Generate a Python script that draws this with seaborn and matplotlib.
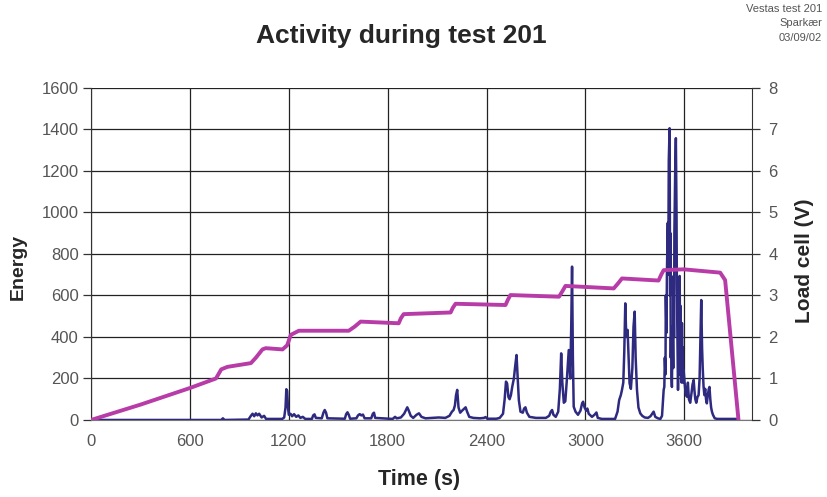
import matplotlib
matplotlib.use("Agg")
import matplotlib.pyplot as plt
import seaborn as sns
import pandas as pd

# Acoustic emission energy (time in s, energy)
energy_time = [0, 790, 800, 810, 955, 970, 980, 990, 1000, 1010, 1020, 1035, 1050, 1062,
               1160, 1172, 1180, 1185, 1190, 1195, 1200, 1210, 1220, 1232, 1245, 1258, 1270, 1285, 1300,
               1340, 1348, 1356, 1364, 1400, 1410, 1418, 1426, 1434, 1540, 1548, 1556, 1564, 1572,
               1610, 1620, 1630, 1640, 1650, 1660, 1700, 1710, 1717, 1724, 1830, 1845, 1855, 1880,
               1900, 1912, 1919, 1928, 1940, 1955, 1975, 1990, 2005, 2030, 2070, 2110, 2150, 2175,
               2190, 2200, 2208, 2215, 2222, 2230, 2240, 2252, 2265, 2273, 2282, 2295, 2320, 2360,
               2385, 2394, 2405, 2460, 2480, 2500, 2510, 2518, 2525, 2533, 2540, 2548, 2556, 2566,
               2574, 2582, 2589, 2596, 2606, 2620, 2628, 2636, 2645, 2660, 2700, 2760, 2780, 2790,
               2798, 2806, 2820, 2835, 2845, 2853, 2860, 2869, 2878, 2888, 2899, 2908, 2914, 2919,
               2924, 2929, 2940, 2955, 2970, 2980, 2986, 2995, 3005, 3012, 3020, 3040, 3055, 3067,
               3075, 3100, 3180, 3195, 3205, 3215, 3222, 3230, 3236, 3242, 3248, 3256, 3262, 3268,
               3276, 3285, 3292, 3299, 3305, 3313, 3322, 3333, 3345, 3360, 3380, 3395, 3405, 3414,
               3424, 3440, 3455, 3465, 3470, 3475, 3479, 3482, 3486, 3488, 3492, 3495, 3500, 3503,
               3506, 3511, 3514, 3516, 3518, 3520, 3523, 3525, 3528, 3530, 3533, 3535, 3538, 3540,
               3545, 3549, 3553, 3555, 3557, 3560, 3562, 3565, 3567, 3570, 3572, 3575, 3577, 3579,
               3581, 3584, 3586, 3589, 3591, 3594, 3596, 3602, 3608, 3616, 3622, 3628, 3636, 3644,
               3650, 3657, 3662, 3667, 3673, 3680, 3687, 3693, 3698, 3703, 3708, 3712, 3717, 3722,
               3727, 3732, 3737, 3743, 3749, 3753, 3758, 3763, 3768, 3774, 3785, 3800, 3930]
energy_value = [0, 0, 8, 0, 2, 20, 30, 18, 32, 22, 30, 12, 20, 5,
                5, 12, 60, 148, 140, 60, 25, 30, 18, 28, 15, 22, 10, 15, 5,
                5, 22, 27, 10, 8, 35, 48, 35, 8, 6, 28, 37, 25, 6,
                8, 22, 28, 22, 26, 8, 8, 30, 35, 10, 5, 15, 8, 12,
                30, 50, 61, 45, 20, 10, 25, 32, 15, 8, 10, 12, 10, 20,
                40, 48, 70, 120, 145, 60, 35, 45, 55, 61, 40, 15, 10, 8,
                10, 14, 6, 6, 10, 30, 100, 185, 175, 110, 100, 120, 160, 200,
                260, 313, 200, 96, 40, 35, 55, 61, 35, 15, 10, 10, 20, 40,
                48, 25, 15, 40, 150, 321, 180, 83, 90, 200, 337, 200, 450, 739,
                300, 64, 40, 25, 45, 80, 88, 60, 45, 55, 30, 15, 25, 36,
                10, 5, 5, 40, 96, 120, 145, 180, 330, 562, 400, 434, 300, 177,
                150, 250, 450, 522, 300, 145, 60, 32, 20, 12, 10, 18, 30, 40,
                15, 8, 5, 20, 80, 145, 160, 300, 220, 600, 420, 723, 950, 700,
                1250, 1406, 600, 900, 300, 400, 200, 159, 380, 450, 250, 694, 400, 900,
                1200, 1358, 1000, 650, 500, 250, 145, 300, 400, 220, 694, 300, 550, 250,
                300, 180, 467, 220, 350, 180, 241, 180, 130, 112, 180, 100, 83, 130,
                170, 193, 140, 100, 83, 110, 120, 200, 400, 578, 350, 250, 161, 120,
                150, 100, 80, 120, 150, 159, 100, 60, 40, 25, 8, 5, 5]

# Load cell signal (time in s, volts)
load_time = [0, 300, 600, 758, 790, 828, 970, 1000, 1040, 1060, 1162, 1190, 1212, 1261, 1564,
             1600, 1636, 1867, 1880, 1897, 2182, 2195, 2212, 2515, 2530, 2545, 2840, 2860,
             2879, 3172, 3200, 3222, 3444, 3460, 3475, 3596, 3818, 3848, 3929]
load_value = [0, 0.37, 0.77, 1.0, 1.22, 1.28, 1.37, 1.5, 1.7, 1.73, 1.70, 1.8, 2.05, 2.15, 2.15,
              2.25, 2.37, 2.33, 2.45, 2.55, 2.59, 2.7, 2.80, 2.77, 2.9, 3.01, 2.97, 3.1,
              3.23, 3.17, 3.3, 3.41, 3.36, 3.5, 3.61, 3.63, 3.55, 3.37, 0]

time_ticks = [0, 600, 1200, 1800, 2400, 3000, 3600]
energy_ticks = [0, 200, 400, 600, 800, 1000, 1200, 1400, 1600]
load_ticks = [0, 1, 2, 3, 4, 5, 6, 7, 8]

sns.set_style("white")
plt.rcParams["font.family"] = ["Liberation Sans", "DejaVu Sans"]

energy_df = pd.DataFrame({"t": energy_time, "E": energy_value})
load_df = pd.DataFrame({"t": load_time, "V": load_value})

fig = plt.figure(figsize=(8.28, 4.97), dpi=100)
ax = fig.add_axes([0.110, 0.155, 0.798, 0.668])
ax2 = ax.twinx()

navy = "#2e2a80"
magenta = "#b83ca8"
tick_col = "#555555"

sns.lineplot(data=energy_df, x="t", y="E", ax=ax, color=navy, linewidth=1.8,
             sort=False, estimator=None, zorder=3)
sns.lineplot(data=load_df, x="t", y="V", ax=ax2, color=magenta, linewidth=2.8,
             sort=False, estimator=None, zorder=4)

ax.set_xlim(0, 4010)
ax.set_ylim(0, 1600)
ax2.set_ylim(0, 8)
ax.set_xticks(time_ticks)
ax.set_yticks(energy_ticks)
ax2.set_yticks(load_ticks)

ax.grid(True, color="#222222", linewidth=0.9)
ax.set_axisbelow(True)
ax2.grid(False)

for a in (ax, ax2):
    for s in a.spines.values():
        s.set_visible(False)
ax.spines["left"].set_visible(True)
ax.spines["left"].set_color("#333333")
ax.spines["bottom"].set_visible(True)
ax.spines["bottom"].set_color("#777777")
ax2.spines["right"].set_visible(True)
ax2.spines["right"].set_color("#333333")

ax.tick_params(axis="both", which="major", length=6, width=0.9, color="#333333",
               labelsize=12, labelcolor=tick_col, direction="out")
ax.tick_params(axis="x", pad=4)
ax.tick_params(axis="y", pad=3)
ax2.tick_params(axis="y", length=6, width=0.9, color="#333333", labelsize=12,
                labelcolor=tick_col, direction="out", pad=6)

ax.set_xlabel("Time (s)", fontsize=15.5, fontweight="bold")
ax.xaxis.set_label_coords(0.497, -0.148)
ax.set_ylabel("Energy", fontsize=14, fontweight="bold")
ax.yaxis.set_label_coords(-0.097, 0.46)
ax2.set_ylabel("Load cell (V)", fontsize=15, fontweight="bold")
ax2.yaxis.set_label_coords(1.065, 0.48)

fig.text(0.485, 0.928, "Activity during test 201", ha="center", va="center",
         fontsize=19, fontweight="bold")
fig.text(0.993, 0.992, "Vestas test 201\nSparkær\n03/09/02", ha="right", va="top",
         fontsize=8, color="#555555", linespacing=1.55)

fig.savefig("out.png", dpi=100)
